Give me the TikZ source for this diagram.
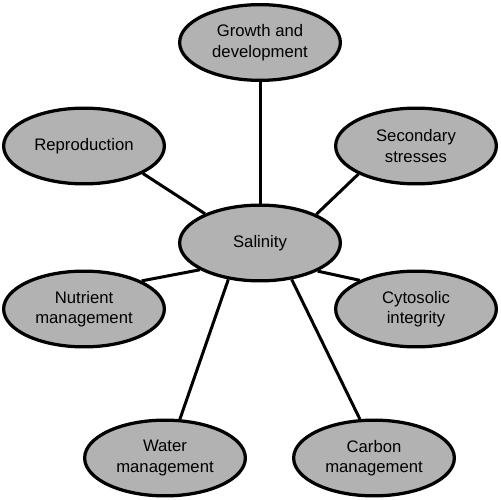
\documentclass[tikz,border=0pt]{standalone}
\usepackage{fontspec}
\setmainfont{Liberation Sans}
\usetikzlibrary{shapes.geometric}
\definecolor{ellfill}{RGB}{178,178,178}
\begin{document}
\begin{tikzpicture}[x=0.02cm,y=-0.02cm,
  bub/.style={ellipse, draw=black, line width=0.065cm, fill=ellfill,
    minimum width=3.215cm, minimum height=1.515cm, inner sep=0pt, align=center,
    font=\fontsize{9.5}{11.6}\selectfont},
  link/.style={line width=0.06cm}]
\useasboundingbox (0,0) rectangle (500,500);
\node[bub] (sal) at (260,243) {Salinity};
\node[bub] (grow) at (260,42.5) {Growth and\\development};
\node[bub] (repr) at (84,146) {Reproduction};
\node[bub] (sec) at (416,146) {Secondary\\stresses};
\node[bub] (nut) at (84,309) {Nutrient\\management};
\node[bub] (cyt) at (416,309) {Cytosolic\\integrity};
\node[bub] (wat) at (165,458) {Water\\management};
\node[bub] (carb) at (374,458) {Carbon\\management};
\draw[link] (sal.90) -- (grow.270);
\draw[link] (sal.152.6) -- (repr.335.4);
\draw[link] (sal.27.4) -- (sec.206.6);
\draw[link] (sal.204.3) -- (nut.26.2);
\draw[link] (sal.334.2) -- (cyt.153.4);
\draw[link] (sal.229) -- (wat.69.4);
\draw[link] (sal.311) -- (carb.110.6);
\end{tikzpicture}
\end{document}
